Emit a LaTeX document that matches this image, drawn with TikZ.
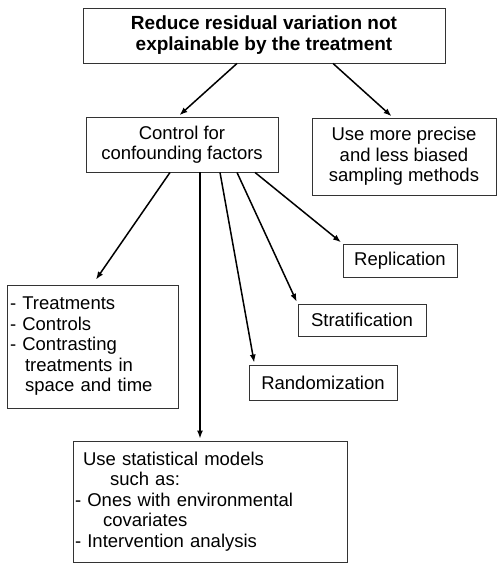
\documentclass[tikz,border=0pt]{standalone}
\usepackage{fontspec}
\setmainfont{Liberation Sans}
\usetikzlibrary{arrows.meta, positioning}

\tikzset{
  box/.style={draw=black!80, line width=0.9pt, inner sep=0pt, align=center,
              font=\fontsize{18.5}{20.5}\selectfont},
  arr/.style={-{Latex[length=8pt,width=6pt]}, line width=1.5pt, shorten >=2pt}
}

\begin{document}
\begin{tikzpicture}[x=1pt, y=-1pt]
  \useasboundingbox (0,0) rectangle (497,563);

  \node[box, minimum width=362pt, minimum height=55pt,
        font=\fontsize{19}{21}\selectfont\bfseries] (goal) at (264,35.5)
        {Reduce residual variation not\\explainable by the treatment};
  \node[box, minimum width=192pt, minimum height=55pt] (control) at (182,144.5)
        {Control for\\confounding factors};
  \node[box, minimum width=184pt, minimum height=77pt] (sampling) at (404,156.5)
        {Use more precise\\and less biased\\sampling methods};
  \node[box, minimum width=114pt, minimum height=33pt] (replic) at (400,260.5) {Replication};
  \node[box, minimum width=128pt, minimum height=32pt] (strat) at (362,320) {Stratification};
  \node[box, minimum width=148pt, minimum height=35pt] (random) at (323,382.5) {Randomization};
  \node[box, align=left, text width=165pt, minimum height=123pt, inner xsep=3pt]
        (contrast) at (92.5,346.5)
        {- Treatments\\- Controls\\- Contrasting\\\hspace*{15pt}treatments in\\\hspace*{15pt}space and time};
  \node[box, align=left, text width=270pt, minimum height=121pt, inner xsep=2pt]
        (models) at (210,501.5)
        {\hspace*{8pt}Use statistical models\\\hspace*{35pt}such as:\\- Ones with environmental\\\hspace*{28pt}covariates\\- Intervention analysis};

  \draw[arr] ([xshift=-27pt]goal.south) -- ([xshift=-4pt]control.north);
  \draw[arr] ([xshift=69pt]goal.south) -- ([xshift=-11pt]sampling.north);
  \draw[arr, shorten >=6pt] ([xshift=-12pt]control.south) -- (contrast.north);
  \draw[arr] ([xshift=18pt]control.south) -- ([xshift=-10pt]models.north);
  \draw[arr] ([xshift=38pt]control.south) -- ([xshift=6pt]random.north west);
  \draw[arr] ([xshift=55pt]control.south) -- (strat.north west);
  \draw[arr] ([xshift=73pt]control.south) -- (replic.north west);
\end{tikzpicture}
\end{document}
